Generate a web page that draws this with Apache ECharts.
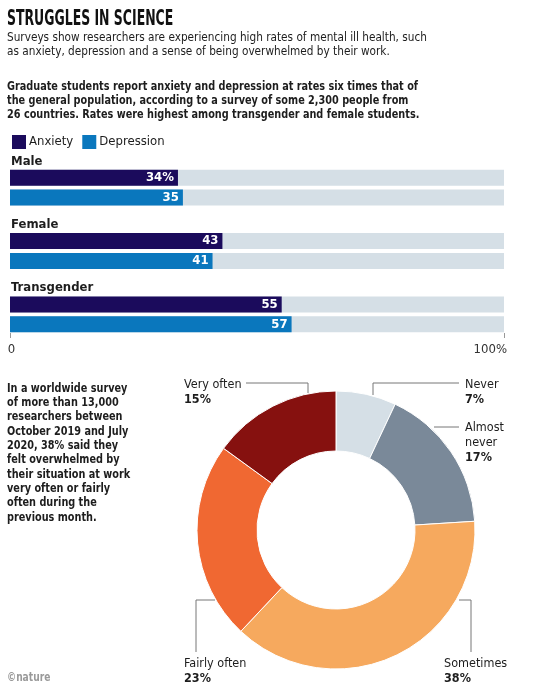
<!DOCTYPE html>
<html>
<head>
<meta charset="utf-8">
<script src="https://cdn.jsdelivr.net/npm/echarts@6/dist/echarts.min.js"></script>
<style>
  html, body { margin: 0; padding: 0; background: #fff; }
  #chart { width: 536px; height: 693px; }
</style>
</head>
<body>
<div id="chart"></div>
<script>
  // bar data
  var groups = ['Male', 'Female', 'Transgender'];
  var anxiety = [34, 43, 55];
  var depression = [35, 41, 57];
  var xTickLabels = ['0', '100%'];

  // donut data
  var freqNames = ['Never', 'Almost never', 'Sometimes', 'Fairly often', 'Very often'];
  var freqLabels = ['Never', 'Almost\nnever', 'Sometimes', 'Fairly often', 'Very often'];
  var freqValues = [7, 17, 38, 23, 15];

  var FONT = '"Liberation Sans Narrow", "DejaVu Sans Condensed", "Noto Sans", sans-serif';
  var INK = '#1d1d1d';

  // where the donut labels sit and how the leader lines bend
  var labelSpots = [
    { x: 465, y: 377, line: [[373, 395], [373, 383], [459, 383]] },
    { x: 465, y: 420, line: [[434, 427], [446, 427], [459, 427]] },
    { x: 444, y: 656, line: [[459, 600], [471, 600], [471, 652]] },
    { x: 184, y: 656, line: [[215, 600], [196, 600], [196, 652]] },
    { x: 184, y: 377, line: [[308, 393], [308, 383], [246, 383]] }
  ];

  var chart = echarts.init(document.getElementById('chart'));

  var pieData = freqNames.map(function (n, i) {
    return { name: n, value: freqValues[i] };
  });
  var pieColors = ['#d5dfe6', '#7a8999', '#f6a95e', '#f06832', '#86110f'];

  var option = {
    animation: false,
    backgroundColor: '#fff',
    textStyle: { fontFamily: FONT },
    legend: {
      data: ['Anxiety', 'Depression'],
      left: 12,
      top: 135,
      padding: 0,
      itemWidth: 14,
      itemHeight: 14,
      itemGap: 9,
      icon: 'rect',
      textStyle: { fontFamily: FONT, fontSize: 13, color: INK, padding: [0, 0, 0, -2] }
    },
    grid: { left: 10, right: 32, top: 156, bottom: 347 },
    xAxis: {
      type: 'value',
      min: 0,
      max: 100,
      interval: 100,
      offset: -8,
      axisLine: { show: false },
      axisTick: { show: true, inside: true, length: 5, lineStyle: { color: '#999' } },
      splitLine: { show: false },
      axisLabel: {
        margin: 5,
        fontFamily: FONT,
        fontSize: 13,
        color: '#333',
        alignMaxLabel: 'right',
        padding: [0, -3, 0, 0],
        formatter: function (v) { return v === 0 ? xTickLabels[0] : xTickLabels[1]; }
      }
    },
    yAxis: {
      type: 'category',
      data: groups,
      inverse: true,
      axisLine: { show: false },
      axisTick: { show: false },
      axisLabel: {
        inside: true,
        margin: 1,
        verticalAlign: 'middle',
        formatter: function (v) { return '{a|' + v + '}\n{b|}'; },
        rich: {
          a: { fontFamily: FONT, fontSize: 13, fontWeight: 'bold', color: INK, lineHeight: 15 },
          b: { lineHeight: 53 }
        }
      }
    },
    series: [
      {
        name: 'Anxiety',
        type: 'bar',
        data: anxiety,
        barWidth: 16,
        barGap: '24%',
        itemStyle: { color: '#1b0b5c' },
        showBackground: true,
        backgroundStyle: { color: '#d5dfe6' },
        label: {
          show: true,
          position: 'insideRight',
          distance: 4,
          color: '#fff',
          fontFamily: FONT,
          fontSize: 13,
          fontWeight: 'bold',
          formatter: function (p) { return p.dataIndex === 0 ? p.value + '%' : p.value; }
        }
      },
      {
        name: 'Depression',
        type: 'bar',
        data: depression,
        barWidth: 16,
        itemStyle: { color: '#0a77bd' },
        showBackground: true,
        backgroundStyle: { color: '#d5dfe6' },
        label: {
          show: true,
          position: 'insideRight',
          distance: 4,
          color: '#fff',
          fontFamily: FONT,
          fontSize: 13,
          fontWeight: 'bold'
        }
      },
      {
        name: 'Overwhelmed',
        type: 'pie',
        center: [336, 530],
        radius: [79, 139],
        startAngle: 90,
        clockwise: true,
        avoidLabelOverlap: false,
        data: pieData,
        color: pieColors,
        itemStyle: { borderColor: '#fff', borderWidth: 1 },
        label: {
          show: true,
          position: 'outside',
          formatter: function (p) {
            var lines = freqLabels[p.dataIndex].split('\n').map(function (s) { return '{n|' + s + '}'; });
            return lines.join('\n') + '\n{p|' + p.value + '%}';
          },
          rich: {
            n: { fontFamily: FONT, fontSize: 12.5, color: INK, lineHeight: 15 },
            p: { fontFamily: FONT, fontSize: 12.5, fontWeight: 'bold', color: INK, lineHeight: 15 }
          }
        },
        labelLine: { show: true, lineStyle: { color: '#777', width: 1 } },
        labelLayout: function (params) {
          var s = labelSpots[params.dataIndex];
          return { x: s.x, y: s.y, align: 'left', verticalAlign: 'top', labelLinePoints: s.line };
        }
      }
    ],
    graphic: [
      {
        type: 'text', x: 7, y: 8, scaleX: 0.63,
        style: {
          text: 'STRUGGLES IN SCIENCE',
          fontFamily: FONT, fontSize: 22, fontWeight: 'bold', fill: '#111', verticalAlign: 'top'
        }
      },
      {
        type: 'text', x: 7, y: 30, scaleX: 0.9,
        style: {
          text: 'Surveys show researchers are experiencing high rates of mental ill health, such\nas anxiety, depression and a sense of being overwhelmed by their work.',
          fontFamily: FONT, fontSize: 13, fill: INK, lineHeight: 14.5, verticalAlign: 'top'
        }
      },
      {
        type: 'text', x: 7, y: 79, scaleX: 0.83,
        style: {
          text: 'Graduate students report anxiety and depression at rates six times that of\nthe general population, according to a survey of some 2,300 people from\n26 countries. Rates were highest among transgender and female students.',
          fontFamily: FONT, fontSize: 13, fontWeight: 'bold', fill: INK, lineHeight: 14.3, verticalAlign: 'top'
        }
      },
      {
        type: 'text', x: 7, y: 381, scaleX: 0.83,
        style: {
          text: 'In a worldwide survey\nof more than 13,000\nresearchers between\nOctober 2019 and July\n2020, 38% said they\nfelt overwhelmed by\ntheir situation at work\nvery often or fairly\noften during the\nprevious month.',
          fontFamily: FONT, fontSize: 13, fontWeight: 'bold', fill: INK, lineHeight: 14.35, verticalAlign: 'top'
        }
      },
      {
        type: 'text', x: 7, y: 671, scaleX: 0.78,
        style: {
          text: '©nature',
          fontFamily: FONT, fontSize: 13, fontWeight: 'bold', fill: '#9a9a9a', verticalAlign: 'top'
        }
      }
    ]
  };

  chart.setOption(option);
</script>
</body>
</html>
